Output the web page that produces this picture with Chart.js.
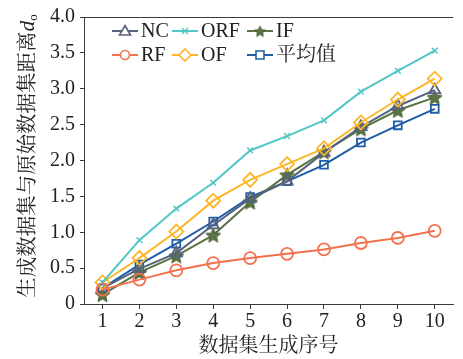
<!DOCTYPE html>
<html>
<head>
<meta charset="utf-8">
<script src="https://cdn.jsdelivr.net/npm/chart.js@4/dist/chart.umd.min.js"></script>
<style>
  html, body { margin: 0; padding: 0; background: #fff; }
  #wrap { width: 463px; height: 359px; }
</style>
</head>
<body>
<div id="wrap"><canvas id="c" width="463" height="359"></canvas></div>
<script>
// Dataset generation index
const categories = ['1', '2', '3', '4', '5', '6', '7', '8', '9', '10'];

// Distance between generated and original datasets, per method
const seriesNC   = [0.22, 0.49, 0.71, 1.10, 1.47, 1.71, 2.11, 2.47, 2.76, 2.98];
const seriesORF  = [0.30, 0.89, 1.33, 1.69, 2.14, 2.34, 2.56, 2.96, 3.25, 3.53];
const seriesIF   = [0.13, 0.44, 0.67, 0.96, 1.42, 1.80, 2.12, 2.44, 2.70, 2.88];
const seriesRF   = [0.20, 0.34, 0.47, 0.57, 0.64, 0.70, 0.76, 0.85, 0.92, 1.02];
const seriesOF   = [0.30, 0.64, 1.01, 1.44, 1.73, 1.95, 2.17, 2.53, 2.85, 3.14];
const seriesMean = [0.22, 0.55, 0.84, 1.15, 1.49, 1.71, 1.94, 2.25, 2.49, 2.72];

const seriesNames = ['NC', 'ORF', 'IF', 'RF', 'OF', '平均值'];
const yTicks = [0, 0.5, 1.0, 1.5, 2.0, 2.5, 3.0, 3.5, 4.0];

const FONT = "'Liberation Serif', 'Noto Serif CJK SC', 'Noto Sans CJK SC', serif";
const AXIS_COLOR = '#3a3a3a';

const colors = {
  NC: '#56627e',
  ORF: '#52c7c6',
  IF: '#5b7443',
  RF: '#f3714f',
  OF: '#fdb62a',
  mean: '#1e5da6'
};

// Filled five-point star used as the IF marker
function makeStar(size, fill, stroke) {
  const cv = document.createElement('canvas');
  cv.width = size; cv.height = size;
  const g = cv.getContext('2d');
  const cx = size / 2, cy = size / 2 + 0.8, R = size / 2 - 0.8, r = R * 0.45;
  g.beginPath();
  for (let i = 0; i < 10; i++) {
    const ang = -Math.PI / 2 + i * Math.PI / 5;
    const rad = i % 2 === 0 ? R : r;
    const px = cx + rad * Math.cos(ang), py = cy + rad * Math.sin(ang);
    if (i === 0) g.moveTo(px, py); else g.lineTo(px, py);
  }
  g.closePath();
  g.fillStyle = fill; g.fill();
  g.lineWidth = 1; g.strokeStyle = stroke; g.stroke();
  return cv;
}
const starImg = makeStar(17, '#5b7443', '#46602f');
const starImgSmall = makeStar(13, '#5b7443', '#46602f');

const T = 'rgba(0,0,0,0)';
function ds(label, data, color, style, radius, extra) {
  return Object.assign({
    label, data,
    borderColor: color,
    backgroundColor: T,
    pointBorderColor: color,
    pointBackgroundColor: T,
    pointStyle: style,
    pointRadius: radius,
    pointHoverRadius: radius,
    pointBorderWidth: 1.8,
    borderWidth: 2,
    tension: 0,
    fill: false
  }, extra || {});
}

const datasets = [
  ds(seriesNames[3], seriesRF, colors.RF, 'circle', 6),
  ds(seriesNames[1], seriesORF, colors.ORF, 'crossRot', 4, { pointBorderWidth: 1.5 }),
  ds(seriesNames[4], seriesOF, colors.OF, 'rectRot', 7),
  ds(seriesNames[0], seriesNC, colors.NC, 'triangle', 6.5),
  ds(seriesNames[2], seriesIF, colors.IF, starImg, 8),
  ds(seriesNames[5], seriesMean, colors.mean, 'rect', 5.5)
];

// Marker drawing for the legend
function drawMarker(ctx, style, x, y, color) {
  ctx.save();
  ctx.strokeStyle = color;
  ctx.lineWidth = 1.6;
  ctx.beginPath();
  if (style === 'circle') {
    ctx.arc(x, y, 4.5, 0, Math.PI * 2);
    ctx.fillStyle = '#fff'; ctx.fill(); ctx.stroke();
  } else if (style === 'triangle') {
    ctx.moveTo(x, y - 5.5); ctx.lineTo(x + 5.5, y + 4); ctx.lineTo(x - 5.5, y + 4); ctx.closePath();
    ctx.fillStyle = '#fff'; ctx.fill(); ctx.stroke();
  } else if (style === 'rectRot') {
    ctx.moveTo(x, y - 6); ctx.lineTo(x + 6, y); ctx.lineTo(x, y + 6); ctx.lineTo(x - 6, y); ctx.closePath();
    ctx.fillStyle = '#fff'; ctx.fill(); ctx.stroke();
  } else if (style === 'rect') {
    ctx.rect(x - 4, y - 4, 8, 8);
    ctx.fillStyle = '#fff'; ctx.fill(); ctx.stroke();
  } else if (style === 'crossRot') {
    ctx.lineWidth = 1.3;
    ctx.moveTo(x - 3, y - 3); ctx.lineTo(x + 3, y + 3);
    ctx.moveTo(x + 3, y - 3); ctx.lineTo(x - 3, y + 3);
    ctx.stroke();
  } else {
    ctx.drawImage(starImgSmall, x - 6.5, y - 6.5);
  }
  ctx.restore();
}

const legendItems = [
  { name: seriesNames[0], color: colors.NC,   style: 'triangle', col: 0, row: 0 },
  { name: seriesNames[1], color: colors.ORF,  style: 'crossRot', col: 1, row: 0 },
  { name: seriesNames[2], color: colors.IF,   style: 'star',     col: 2, row: 0 },
  { name: seriesNames[3], color: colors.RF,   style: 'circle',   col: 0, row: 1 },
  { name: seriesNames[4], color: colors.OF,   style: 'rectRot',  col: 1, row: 1 },
  { name: seriesNames[5], color: colors.mean, style: 'rect',     col: 2, row: 1 }
];
const legendCols = [112, 172, 247];
const legendRows = [31, 55];

const decorPlugin = {
  id: 'decor',
  afterDraw(chart) {
    const ctx = chart.ctx;
    const a = chart.chartArea;
    ctx.save();
    // top frame line
    ctx.strokeStyle = AXIS_COLOR;
    ctx.lineWidth = 1;
    ctx.beginPath();
    ctx.moveTo(a.left, a.top + 0.5);
    ctx.lineTo(a.right, a.top + 0.5);
    ctx.stroke();

    // legend
    ctx.font = '20px ' + FONT;
    ctx.textBaseline = 'middle';
    ctx.textAlign = 'left';
    legendItems.forEach(it => {
      const x0 = legendCols[it.col], y = legendRows[it.row];
      ctx.strokeStyle = it.color;
      ctx.lineWidth = 2;
      ctx.beginPath();
      ctx.moveTo(x0, y); ctx.lineTo(x0 + 26, y);
      ctx.stroke();
      drawMarker(ctx, it.style, x0 + 13, y, it.color);
      ctx.fillStyle = '#222';
      ctx.fillText(it.name, x0 + 29, y + 1);
    });

    // rotated y-axis title with italic d and subscript o
    const main = '生成数据集与原始数据集距离';
    const fs = 20.5;
    ctx.translate(27, 156);
    ctx.rotate(-Math.PI / 2);
    ctx.font = fs + 'px ' + FONT;
    const wMain = ctx.measureText(main).width;
    ctx.font = 'italic 21.5px ' + FONT;
    const wD = ctx.measureText('d').width;
    ctx.font = '13px ' + FONT;
    const wO = ctx.measureText('o').width;
    let x = -(wMain + wD + wO) / 2;
    ctx.fillStyle = '#222';
    ctx.textBaseline = 'alphabetic';
    ctx.font = fs + 'px ' + FONT;
    ctx.fillText(main, x, 7);
    x += wMain;
    ctx.font = 'italic 21.5px ' + FONT;
    ctx.fillText('d', x, 7);
    x += wD;
    ctx.font = '13px ' + FONT;
    ctx.fillText('o', x, 10);
    ctx.restore();
  }
};

new Chart(document.getElementById('c'), {
  type: 'line',
  data: { labels: categories, datasets },
  options: {
    responsive: false,
    animation: false,
    devicePixelRatio: 1,
    layout: { padding: { top: 14, right: 0, left: 0, bottom: 0 } },
    plugins: {
      legend: { display: false },
      tooltip: { enabled: false }
    },
    scales: {
      x: {
        type: 'category',
        offset: true,
        grid: { offset: false, drawOnChartArea: false, drawTicks: true, tickLength: 5, color: AXIS_COLOR },
        border: { display: true, color: AXIS_COLOR, width: 1 },
        ticks: { color: '#222', font: { family: FONT, size: 20 }, padding: 1, maxRotation: 0 },
        title: {
          display: true,
          text: '数据集生成序号',
          color: '#222',
          font: { family: FONT, size: 20 },
          padding: { top: 0, bottom: 0 }
        },
        afterFit(scale) { scale.height = 55; }
      },
      y: {
        min: 0,
        max: 4,
        afterBuildTicks(scale) { scale.ticks = yTicks.map(v => ({ value: v })); },
        grid: { drawOnChartArea: false, drawTicks: true, tickLength: 4, color: AXIS_COLOR },
        border: { display: true, color: AXIS_COLOR, width: 1 },
        ticks: {
          color: '#222',
          font: { family: FONT, size: 20 },
          padding: 5,
          callback: v => (v === 0 ? '0' : v.toFixed(1))
        },
        afterFit(scale) { scale.width = 84; }
      }
    }
  },
  plugins: [decorPlugin]
});
</script>
</body>
</html>
